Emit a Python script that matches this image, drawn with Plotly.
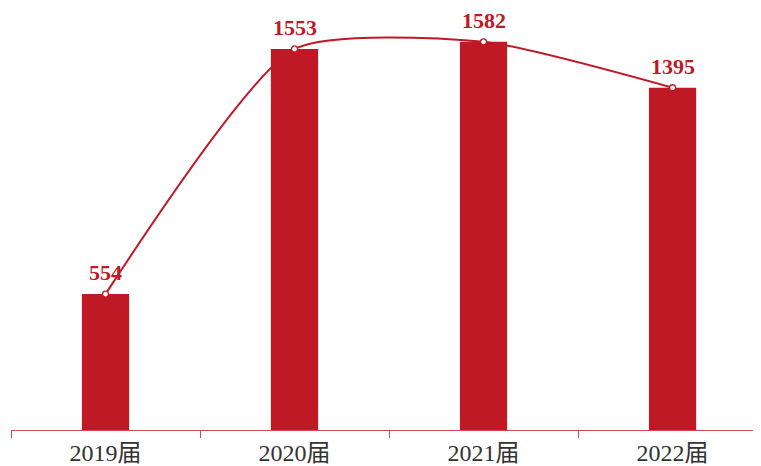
import plotly.graph_objects as go

categories = ["2019届", "2020届", "2021届", "2022届"]
values = [554, 1553, 1582, 1395]

red = "#C01926"
fig = go.Figure()
fig.add_trace(go.Bar(x=categories, y=values, marker_color=red, width=0.25,
                     marker_line_width=0, hoverinfo="skip"))
fig.add_trace(go.Scatter(x=categories, y=values, mode="lines+markers",
                         line=dict(color=red, width=2, shape="spline", smoothing=0.6),
                         marker=dict(size=6, color="white", line=dict(color=red, width=1.3)),
                         cliponaxis=False))
for c, v in zip(categories, values):
    fig.add_annotation(x=c, y=v, text=str(v), showarrow=False, yanchor="bottom", yshift=7,
                       font=dict(family="Liberation Serif", size=22, color=red, weight="bold"))
fig.update_layout(
    width=753, height=458, showlegend=False,
    margin=dict(l=3, r=0, t=0, b=36),
    plot_bgcolor="white", paper_bgcolor="white",
    xaxis=dict(type="category", range=[-0.5, 3.468], showline=True, linecolor="#D04A55",
               linewidth=1.2, ticks="outside", tickson="boundaries", ticklen=7,
               tickcolor="#D04A55", tickwidth=1.2, showgrid=False, ticklabelstandoff=1,
               automargin=False,
               tickfont=dict(family="Liberation Serif, Noto Sans CJK SC", size=24, color="#333333")),
    yaxis=dict(range=[0, 1720], visible=False, showgrid=False, zeroline=False),
)
fig.write_html("out.html")
